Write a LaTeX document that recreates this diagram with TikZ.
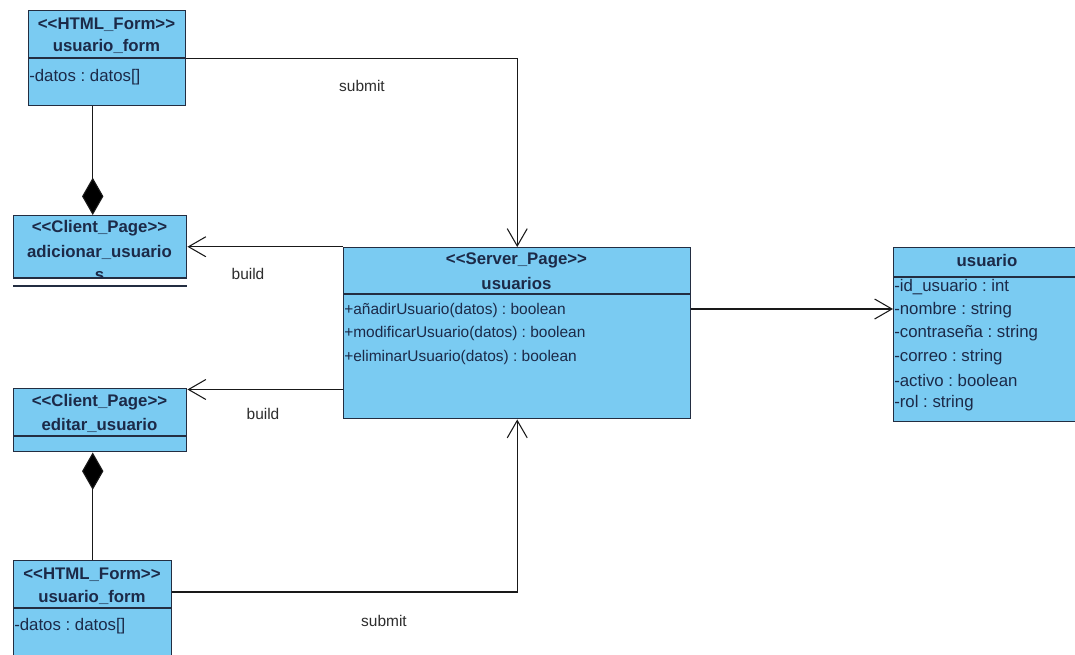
\documentclass[tikz,border=0pt]{standalone}
\usepackage{fontspec}
\newfontfamily\umlfont{Liberation Sans}
\usetikzlibrary{arrows.meta,calc}
\frenchspacing
\definecolor{classfill}{RGB}{122,203,242}
\definecolor{classline}{RGB}{35,45,65}
\definecolor{classtext}{RGB}{28,42,72}
\definecolor{linktext}{RGB}{45,45,45}
\definecolor{linkline}{RGB}{25,25,25}
\tikzset{
  classbox/.style={draw=classline, fill=classfill, line width=1.1pt, anchor=north west, inner sep=0pt},
  head/.style={font=\umlfont\bfseries\fontsize{12.6}{14}\selectfont, text=classtext, inner sep=0pt, anchor=center},
  member/.style={font=\umlfont\fontsize{11.6}{13}\selectfont, text=classtext, inner sep=0pt, anchor=west},
  attr/.style={member, font=\umlfont\fontsize{12.6}{14}\selectfont},
  divider/.style={draw=classline, line width=1.1pt},
  link/.style={draw=linkline, line width=0.8pt},
  navarrow/.style={link, -{Straight Barb[length=13pt,width=15pt]}},
  compose/.style={link, {Diamond[length=28pt,width=16pt,fill=black]}-},
  lbl/.style={font=\umlfont\fontsize{11.6}{13}\selectfont, text=linktext, inner sep=0pt}
}
\begin{document}
\begin{tikzpicture}[x=0.75pt,y=-0.75pt]
\useasboundingbox (0,0) rectangle (1075,654);
\clip (0,0) rectangle (1075,654);
\fill[white] (0,0) rectangle (1075,654);

% --- class boxes ---
\node[classbox, minimum width=117.75pt, minimum height=71.25pt] (form1) at (28,10) {};
\node[classbox, minimum width=129.75pt, minimum height=46.5pt] (adic) at (13,215) {};
\node[classbox, minimum width=129.75pt, minimum height=47.25pt] (editar) at (13,388) {};
\node[classbox, minimum width=118.5pt, minimum height=105pt] (form4) at (13,560) {};
\node[classbox, minimum width=260.25pt, minimum height=128.25pt] (server) at (343,247) {};
\node[classbox, minimum width=144pt, minimum height=130.5pt] (usuario) at (893,247) {};

% --- compartment dividers ---
\draw[divider] (form1.west |- 0,58) -- (form1.east |- 0,58);
\draw[divider] (editar.west |- 0,436) -- (editar.east |- 0,436);
\draw[divider] (form4.west |- 0,608) -- (form4.east |- 0,608);
\draw[divider] (server.west |- 0,294) -- (server.east |- 0,294);
\draw[divider] (usuario.west |- 0,277) -- (usuario.east |- 0,277);
\draw[divider] (adic.west |- 0,286) -- (adic.east |- 0,286);

% --- usuario_form (top) ---
\node[head] (f1st) at (106.5,25) {<<HTML\_Form>>};
\node[head] (f1nm) at (106.5,46) {usuario\_form};
\node[attr] (f1a1) at (29,77) {-datos : datos[]};

% --- adicionar_usuarios ---
\node[head] (adst) at (99.5,228) {<<Client\_Page>>};
\node[head] (adnm) at (99.5,252) {adicionar\_usuario};
\begin{scope}
  \clip (13,215) rectangle (186,277);
  \node[head] (adnm2) at (99.5,276) {s};
\end{scope}
\draw[classline, line width=1.1pt] (adic.south west) -- (adic.south east);

% --- editar_usuario ---
\node[head] (edst) at (99.5,402) {<<Client\_Page>>};
\node[head] (ednm) at (99.5,425) {editar\_usuario};

% --- usuario_form (bottom) ---
\node[head] (f4st) at (92,575) {<<HTML\_Form>>};
\node[head] (f4nm) at (92,597) {usuario\_form};
\node[attr] (f4a1) at (14,626) {-datos : datos[]};

% --- usuarios (server page) ---
\node[head] (svst) at (516.5,260) {<<Server\_Page>>};
\node[head] (svnm) at (516.5,283) {usuarios};
\node[member] (svm1) at (344,310) {+añadirUsuario(datos) : boolean};
\node[member] (svm2) at (344,333) {+modificarUsuario(datos) : boolean};
\node[member] (svm3) at (344,357) {+eliminarUsuario(datos) : boolean};

% --- usuario entity ---
\node[head] (usnm) at (987,260) {usuario};
\node[attr] (usa1) at (894,287) {-id\_usuario : int};
\node[attr] (usa2) at (894,310) {-nombre : string};
\node[attr] (usa3) at (894,333) {-contraseña : string};
\node[attr] (usa4) at (894,357) {-correo : string};
\node[attr] (usa5) at (894,380) {-activo : boolean};
\node[attr] (usa6) at (894,403) {-rol : string};

% --- connectors ---
\coordinate (form4out) at ($(form4.north east)+(0,32)$);
\draw[navarrow] (form1.east) -| (server.north);
\draw[navarrow] (form4out) -| (server.south);
\draw[navarrow] (adic.east -| server.west) -- (adic.east);
\draw[navarrow] ($(editar.north east -| server.west)+(0,1.5)$) -- ($(editar.north east)+(0,1.5)$);
\draw[navarrow] ($(server.east |- usa2.west)+(0,-1)$) -- ($(usuario.west |- usa2.west)+(0,-1)$);
\draw[compose] (adic.north -| form4.north) -- (form1.south -| form4.north);
\draw[compose] (editar.south -| form4.north) -- (form4.north);

% --- connector labels ---
\node[lbl] (sub1) at (362,86) {submit};
\node[lbl] (bld1) at (248,274) {build};
\node[lbl] (bld2) at (263,414) {build};
\node[lbl] (sub2) at (384,621) {submit};
\end{tikzpicture}
\end{document}
